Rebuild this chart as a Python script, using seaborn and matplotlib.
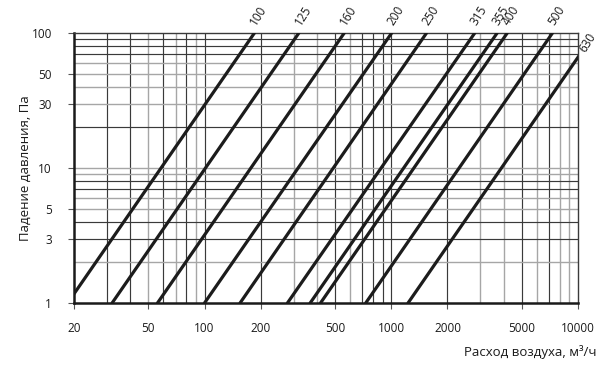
import numpy as np
import pandas as pd
import matplotlib
matplotlib.use("Agg")
import matplotlib.pyplot as plt
import seaborn as sns
from matplotlib.ticker import FixedLocator, NullLocator, FixedFormatter

# Data
diameters = ["100", "125", "160", "200", "250", "315", "355", "400", "500", "630"]
flow_at_1pa = [18.5, 32, 56, 100, 155, 278, 368, 418, 730, 1230]      # m3/h at 1 Pa
flow_at_100pa = [185, 320, 560, 1005, 1545, 2800, 3690, 4180, 7300, 12300]  # m3/h at 100 Pa
pressure_ends = [1, 100]

x_ticks = [20, 50, 100, 200, 500, 1000, 2000, 5000, 10000]
y_ticks = [1, 3, 5, 10, 30, 50, 100]

vgrid_dark = [30, 40, 60, 80, 100, 200, 500, 700, 800, 900, 1000, 2000, 5000, 7000]
vgrid_gray = [50, 70, 90, 300, 400, 600, 3000, 4000, 6000, 8000, 9000]
hgrid_dark = [3, 4, 7, 8, 20, 70, 80, 90]
hgrid_gray = [2, 5, 6, 9, 10, 30, 40, 50, 60]

rows = []
for d, q1, q100 in zip(diameters, flow_at_1pa, flow_at_100pa):
    rows.append({"d": d, "q": q1, "dp": pressure_ends[0]})
    rows.append({"d": d, "q": q100, "dp": pressure_ends[1]})
df = pd.DataFrame(rows)

sns.set_theme(style="white")
plt.rcParams["font.family"] = ["Open Sans", "DejaVu Sans"]

fig = plt.figure(figsize=(6.12, 3.67), dpi=100)
ax = fig.add_axes([74 / 612, (367 - 303) / 367, (578 - 74) / 612, (303 - 33) / 367])
ax.set_xscale("log")
ax.set_yscale("log")
ax.set_xlim(20, 10000)
ax.set_ylim(1, 100)

for v in vgrid_gray:
    ax.axvline(v, color="#a6a6a6", lw=1.0, zorder=1)
for v in vgrid_dark:
    ax.axvline(v, color="#3a3a3a", lw=0.85, zorder=1)
for h in hgrid_gray:
    ax.axhline(h, color="#a6a6a6", lw=1.0, zorder=1)
for h in hgrid_dark:
    ax.axhline(h, color="#3a3a3a", lw=0.85, zorder=1)

sns.lineplot(data=df, x="q", y="dp", units="d", estimator=None,
             color="#1c1c1c", lw=2.3, ax=ax, legend=False, zorder=3)

ax.set_xlim(20, 10000)
ax.set_ylim(1, 100)

ax.xaxis.set_major_locator(FixedLocator(x_ticks))
ax.xaxis.set_major_formatter(FixedFormatter([str(t) for t in x_ticks]))
ax.xaxis.set_minor_locator(NullLocator())
ax.yaxis.set_major_locator(FixedLocator(y_ticks))
ax.yaxis.set_major_formatter(FixedFormatter([str(t) for t in y_ticks]))
ax.yaxis.set_minor_locator(NullLocator())

ax.tick_params(axis="y", which="major", left=True, length=4, width=0.8,
               color="#555555", pad=12, labelsize=8.5, labelcolor="#1a1a1a")
ax.tick_params(axis="x", which="major", bottom=True, length=4, width=0.8,
               color="#555555", pad=10, labelsize=8.5, labelcolor="#1a1a1a")

for side in ["left", "bottom"]:
    ax.spines[side].set_color("#1a1a1a")
    ax.spines[side].set_linewidth(1.8)
for side in ["top", "right"]:
    ax.spines[side].set_color("#3a3a3a")
    ax.spines[side].set_linewidth(1.0)

# diameter labels
for d, q1, q100 in zip(diameters, flow_at_1pa, flow_at_100pa):
    if q100 <= 10000:
        ax.annotate(d, xy=(q100, 100), xytext=(3, 4), textcoords="offset points",
                    rotation=58, rotation_mode="anchor", ha="left", va="bottom",
                    fontsize=8.5, color="#1a1a1a", annotation_clip=False)
    else:
        yend = 100 * (10000 / q100) ** 2
        ax.annotate(d, xy=(10000, yend), xytext=(7, 2), textcoords="offset points",
                    rotation=58, rotation_mode="anchor", ha="left", va="bottom",
                    fontsize=8.5, color="#1a1a1a", annotation_clip=False)

fig.text(597 / 612, 1 - 352 / 367, "Расход воздуха, м³/ч", ha="right", va="center",
         fontsize=9.5, color="#1a1a1a")
fig.text(25 / 612, 1 - 168 / 367, "Падение давления, Па", ha="center", va="center",
         rotation=90, fontsize=9.5, color="#1a1a1a")
ax.set_xlabel("")
ax.set_ylabel("")

fig.savefig("out.png", dpi=100)
